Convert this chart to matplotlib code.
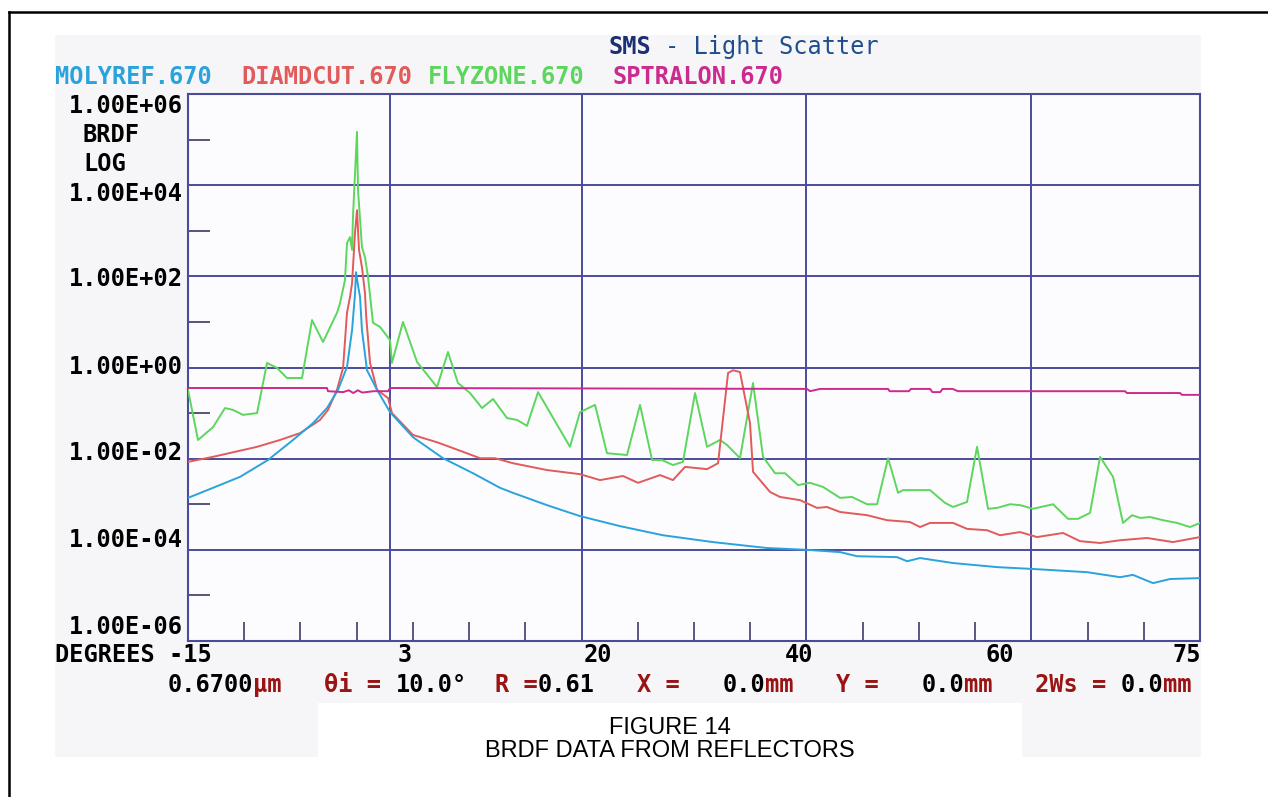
import numpy as np
import matplotlib.pyplot as plt
from matplotlib.patches import Polygon

W, H = 1268, 797

# ---- data (angle in degrees, log10 of BRDF) ----
molyref_deg = [-15.0, -12.78, -10.38, -7.89, -5.66, -3.88, -2.64, -1.66, -0.86, -0.41, -0.15,
               -0.06, 0.12, 0.30, 0.47, 0.92, 1.81, 2.97, 5.01, 7.68, 10.35, 12.75, 13.90,
               16.93, 19.86, 23.42, 27.24, 31.69, 36.49, 40.05, 42.99, 44.50, 48.06, 48.95,
               50.10, 53.04, 57.0, 60.15, 64.95, 67.89, 69.04, 70.82, 72.34, 75.0]
molyref_log = [-2.86, -2.64, -2.40, -2.03, -1.59, -1.22, -0.89, -0.49, 0.01, 0.82, 1.6,
               2.09, 1.8, 1.55, 0.82, -0.06, -0.49, -0.98, -1.53, -1.99, -2.32, -2.64, -2.75,
               -3.02, -3.26, -3.48, -3.68, -3.83, -3.96, -4.00, -4.05, -4.14, -4.16, -4.25,
               -4.18, -4.29, -4.38, -4.42, -4.49, -4.60, -4.55, -4.73, -4.64, -4.62]

diamdcut_deg = [-15.0, -12.78, -8.86, -6.82, -5.04, -3.26, -2.55, -1.75, -1.21, -0.86, -0.59,
                -0.41, -0.15, 0.03, 0.21, 0.47, 0.74, 0.85, 1.19, 1.81, 2.79, 3.14, 5.01,
                7.15, 9.46, 10.97, 12.30, 13.90, 16.93, 19.86, 21.64, 23.69, 25.02, 26.98,
                28.13, 29.20, 31.16, 32.14, 33.03, 33.47, 34.09, 34.98, 35.25, 36.76, 37.65,
                39.43, 40.94, 41.83, 42.99, 45.39, 47.17, 49.21, 50.10, 50.99, 53.04, 54.28,
                56.06, 57.22, 59.00, 60.51, 62.82, 64.33, 66.11, 67.89, 70.29, 72.60, 75.0]
diamdcut_log = [-2.07, -1.96, -1.74, -1.59, -1.44, -1.15, -0.93, -0.49, -0.01, 1.20, 1.55,
                1.85, 2.95, 3.45, 2.58, 2.20, 1.63, 1.11, 0.10, -0.49, -0.67, -1.00, -1.48,
                -1.64, -1.85, -1.99, -1.99, -2.10, -2.25, -2.34, -2.47, -2.38, -2.53, -2.36,
                -2.47, -2.18, -2.23, -2.10, -0.12, -0.06, -0.10, -1.22, -2.29, -2.73, -2.84,
                -2.91, -3.08, -3.06, -3.17, -3.24, -3.35, -3.39, -3.50, -3.41, -3.41, -3.54,
                -3.57, -3.68, -3.61, -3.72, -3.63, -3.81, -3.85, -3.79, -3.74, -3.83, -3.72]

flyzone_deg = [-15.0, -14.11, -12.78, -11.71, -11.0, -10.11, -8.86, -7.97, -7.08, -6.20, -4.86,
               -3.97, -2.99, -1.75, -1.48, -1.04, -0.86, -0.59, -0.41, -0.33, 0.03, 0.12, 0.47,
               0.74, 1.01, 1.45, 2.08, 2.97, 3.14, 4.12, 5.37, 7.15, 8.12, 9.01, 10.08, 11.15,
               12.13, 13.37, 14.26, 15.15, 16.13, 18.97, 19.86, 21.20, 22.26, 24.04, 25.20,
               26.27, 27.16, 28.13, 29.02, 30.09, 31.16, 32.31, 32.94, 34.09, 35.25, 36.14,
               37.21, 38.10, 39.25, 40.32, 41.47, 42.99, 44.05, 45.39, 46.28, 47.26, 48.15,
               48.59, 50.99, 52.32, 53.04, 54.28, 55.17, 56.15, 56.95, 58.11, 59.00, 60.15,
               61.93, 63.26, 64.15, 65.22, 66.11, 67.27, 68.15, 68.96, 69.67, 70.56, 71.71,
               72.96, 74.11, 75.0]
flyzone_log = [-0.49, -1.59, -1.31, -0.89, -0.93, -1.04, -1.00, 0.10, -0.01, -0.23, -0.23,
               1.04, 0.56, 1.20, 1.41, 1.92, 2.73, 2.86, 2.58, 3.30, 5.17, 3.89, 2.64,
               2.42, 1.99, 0.98, 0.89, 0.60, 0.10, 1.00, 0.12, -0.43, 0.34, -0.34, -0.56, -0.89,
               -0.69, -1.11, -1.15, -1.28, -0.54, -1.74, -0.98, -0.82, -1.88, -1.92, -0.82,
               -2.03, -2.03, -2.14, -2.07, -0.56, -1.74, -1.59, -1.70, -1.99, -0.34, -1.96,
               -2.32, -2.32, -2.58, -2.53, -2.62, -2.86, -2.84, -3.00, -3.00, -1.99, -2.75,
               -2.69, -2.69, -2.97, -3.06, -2.95, -1.74, -3.10, -3.08, -3.00, -3.02, -3.10,
               -3.00, -3.32, -3.32, -3.19, -1.96, -2.40, -3.41, -3.24, -3.30, -3.28, -3.35,
               -3.41, -3.50, -3.41]

sptralon_deg = [-15.0, -2.64, -2.55, -1.2, -0.7, -0.3, 0.1, 0.5, 1.5, 2.79, 2.97, 40.05, 40.32,
                41.21, 47.26, 47.4, 49.1, 49.3, 51.0, 51.2, 51.9, 52.1, 53.0, 53.48, 68.33,
                68.5, 73.22, 73.4, 75.0]
sptralon_log = [-0.45, -0.45, -0.52, -0.54, -0.50, -0.56, -0.50, -0.55, -0.52, -0.52, -0.45,
                -0.47, -0.52, -0.47, -0.47, -0.52, -0.52, -0.47, -0.47, -0.54, -0.54, -0.47,
                -0.47, -0.52, -0.52, -0.56, -0.56, -0.60, -0.60]

series_names = ["MOLYREF.670", "DIAMDCUT.670", "FLYZONE.670", "SPTRALON.670"]
series_colors = ["#2aa3dc", "#e25a5a", "#5cd65c", "#cc2a8e"]

y_tick_labels = ["1.00E+06", "1.00E+04", "1.00E+02", "1.00E+00", "1.00E-02", "1.00E-04", "1.00E-06"]
x_tick_labels = ["3", "20", "40", "60", "75"]
grid_y = [1e4, 1e2, 1e0, 1e-2, 1e-4]
grid_x = [3, 20, 40, 60]
minor_y = [1e5, 1e3, 1e1, 1e-1, 1e-3, 1e-5]
minor_x = [-10, -5, 0, 5, 10, 15, 25, 30, 35, 45, 50, 55, 65, 70]

param_parts = [("0.6700", "k"), ("µm", "r"), ("   ", "k"), ("θi =", "r"), (" 10.0°", "k"),
               ("  ", "k"), ("R =", "r"), ("0.61", "k"), ("   ", "k"), ("X =", "r"),
               ("   0.0", "k"), ("mm", "r"), ("   ", "k"), ("Y =", "r"), ("   0.0", "k"),
               ("mm", "r"), ("   ", "k"), ("2Ws =", "r"), (" 0.0", "k"), ("mm", "r")]


def fx(px):
    return px / W


def fy(py):
    return 1 - py / H


MONO = "DejaVu Sans Mono"
FS = 17
CHAR_W = FS * 100 / 72 * 0.602  # advance of one monospace char in pixels
GRIDC = "#4b4b9b"
DARKRED = "#9a1414"

fig = plt.figure(figsize=(W / 100, H / 100), dpi=100)
fig.patch.set_facecolor("white")

# pale screen background with the notch for the caption
bg = [(55, 35), (1201, 35), (1201, 757), (1022, 757), (1022, 703), (318, 703), (318, 757), (55, 757)]
fig.patches.append(Polygon([(fx(a), fy(b)) for a, b in bg], closed=True, transform=fig.transFigure,
                           facecolor="#f6f6f9", edgecolor="none", zorder=-5))
# page border (left and top)
fig.add_artist(plt.Line2D([fx(9), fx(9)], [fy(12), 0], color="black", lw=1.8, transform=fig.transFigure))
fig.add_artist(plt.Line2D([fx(9), 1], [fy(12), fy(12)], color="black", lw=1.8, transform=fig.transFigure))

ax = fig.add_axes([fx(188), fy(641), fx(1200) - fx(188), (641 - 94) / H])
ax.set_facecolor("#fcfcff")
ax.set_yscale("log")
ax.set_xlim(-15, 75)
ax.set_ylim(1e-6, 1e6)

for v in grid_y:
    ax.axhline(v, color=GRIDC, lw=1.4, zorder=1)
for v in grid_x:
    ax.axvline(v, color=GRIDC, lw=1.4, zorder=1)

curves = [(flyzone_deg, flyzone_log, series_colors[2]),
          (diamdcut_deg, diamdcut_log, series_colors[1]),
          (molyref_deg, molyref_log, series_colors[0]),
          (sptralon_deg, sptralon_log, series_colors[3])]
for d, lg, c in curves:
    ax.plot(d, 10 ** np.array(lg), color=c, lw=1.4, zorder=3)

ax.set_xticks(minor_x)
ax.set_yticks(minor_y)
ax.minorticks_off()
ax.tick_params(axis="x", direction="in", length=14, width=1.2, color="#3c3c6a",
               labelbottom=False, bottom=True, top=False)
ax.tick_params(axis="y", direction="in", length=16, width=1.4, color="#55557a",
               labelleft=False, left=True, right=False)
for s in ax.spines.values():
    s.set_color(GRIDC)
    s.set_linewidth(1.5)

# title and legend
fig.text(fx(608), fy(47), "SMS", family=MONO, size=FS, weight="bold", color="#1b2f72", va="center")
fig.text(fx(608 + 4 * CHAR_W), fy(47), "- Light Scatter", family=MONO, size=FS, color="#1f4e8c", va="center")
for name, col, x0 in zip(series_names, series_colors, [55, 241, 428, 613]):
    fig.text(fx(x0), fy(77), name, family=MONO, size=FS, weight="bold", color=col, va="center")

# y axis labels
for lab, yc in zip(y_tick_labels, [106, 194, 279, 367, 453, 540, 627]):
    fig.text(fx(183), fy(yc), lab, family=MONO, size=FS, weight="bold", ha="right", va="center")
fig.text(fx(83), fy(135), "BRDF", family=MONO, size=FS, weight="bold", va="center")
fig.text(fx(83), fy(164), "LOG", family=MONO, size=FS, weight="bold", va="center")

# x axis labels
fig.text(fx(55), fy(655), "DEGREES -15", family=MONO, size=FS, weight="bold", va="center")
for lab, xc in zip(x_tick_labels[:-1], [405, 598, 799, 1000]):
    fig.text(fx(xc), fy(655), lab, family=MONO, size=FS, weight="bold", ha="center", va="center")
fig.text(fx(1201), fy(655), x_tick_labels[-1], family=MONO, size=FS, weight="bold", ha="right", va="center")

# parameter line: each piece placed on the monospace grid
idx = 0
for txt, c in param_parts:
    lead = len(txt) - len(txt.lstrip(" "))
    if txt.strip():
        fig.text(fx(168 + (idx + lead) * CHAR_W), fy(685), txt.strip(), family=MONO, size=FS,
                 weight="bold", color="black" if c == "k" else DARKRED, va="center")
    idx += len(txt)

# caption
fig.text(fx(670), fy(728), "FIGURE 14", family="Liberation Sans", size=17, ha="center", va="center")
fig.text(fx(670), fy(751), "BRDF DATA FROM REFLECTORS", family="Liberation Sans", size=17,
         ha="center", va="center")

fig.savefig("out.png", dpi=100)
